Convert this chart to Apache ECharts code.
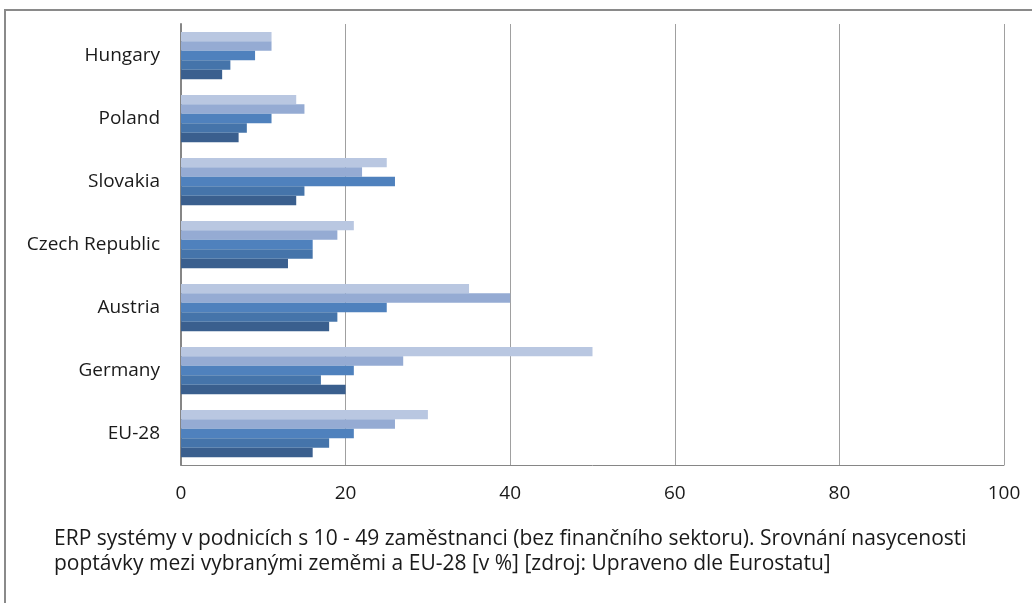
<!DOCTYPE html>
<html>
<head>
<meta charset="utf-8">
<script src="https://cdn.jsdelivr.net/npm/echarts@6/dist/echarts.min.js"></script>
<style>
  html, body { margin: 0; padding: 0; background: #ffffff; }
  #chart { width: 1032px; height: 603px; }
</style>
</head>
<body>
<div id="chart"></div>
<script>
// Countries, listed from the bottom of the axis upwards
const categories = ['EU-28', 'Germany', 'Austria', 'Czech Republic', 'Slovakia', 'Poland', 'Hungary'];

// Share of firms (in %) for each of the five series, same order as categories
const series1 = [16, 20, 18, 13, 14, 7, 5];
const series2 = [18, 17, 19, 16, 15, 8, 6];
const series3 = [21, 21, 25, 16, 26, 11, 9];
const series4 = [26, 27, 40, 19, 22, 15, 11];
const series5 = [30, 50, 35, 21, 25, 14, 11];

const xTicks = [0, 20, 40, 60, 80, 100];

const captionLines = [
  'ERP systémy v podnicích s 10 - 49 zaměstnanci (bez finančního sektoru). Srovnání nasycenosti',
  'poptávky mezi vybranými zeměmi a EU-28 [v %] [zdroj: Upraveno dle Eurostatu]'
];

const colors = ['#3a5f8e', '#4574aa', '#4f81bd', '#95abd3', '#b9c7e1'];
const seriesData = [series1, series2, series3, series4, series5];

const font = '"Open Sans", sans-serif';

const chart = echarts.init(document.getElementById('chart'), null, { renderer: 'canvas' });

// Light series first so the darkest bar sits at the bottom of each group
const barSeries = seriesData.map((d, i) => ({
  name: 'S' + (i + 1),
  type: 'bar',
  data: d,
  barGap: '0%',
  barCategoryGap: '25%',
  itemStyle: { color: colors[i] }
})).reverse();

chart.setOption({
  animation: false,
  backgroundColor: '#ffffff',
  grid: { left: 181, right: 28, top: 24, bottom: 138, containLabel: false },
  xAxis: {
    type: 'value',
    min: xTicks[0],
    max: xTicks[xTicks.length - 1],
    interval: xTicks[1] - xTicks[0],
    axisLine: { show: true, lineStyle: { color: '#868686', width: 1 } },
    axisTick: { show: false },
    axisLabel: { color: '#1a1a1a', fontSize: 19, fontFamily: font, margin: 19 },
    splitLine: { show: true, lineStyle: { color: '#a0a0a0', width: 1 } }
  },
  yAxis: {
    type: 'category',
    data: categories,
    axisLine: { show: true, lineStyle: { color: '#868686', width: 2 } },
    axisTick: { show: false },
    axisLabel: { color: '#1a1a1a', fontSize: 19, fontFamily: font, margin: 21, padding: [6, 0, 0, 0] }
  },
  series: barSeries,
  graphic: [
    {
      type: 'polyline',
      shape: { points: [[5, 603], [5, 10], [1032, 10]] },
      style: { stroke: '#8a8a8a', lineWidth: 2, fill: null }
    },
    {
      type: 'text',
      x: 54, y: 539,
      style: { text: captionLines[0], fontSize: 21, fontFamily: font, fill: '#1a1a1a', verticalAlign: 'middle' }
    },
    {
      type: 'text',
      x: 54, y: 564,
      style: { text: captionLines[1], fontSize: 21, fontFamily: font, fill: '#1a1a1a', verticalAlign: 'middle' }
    }
  ]
});
</script>
</body>
</html>
